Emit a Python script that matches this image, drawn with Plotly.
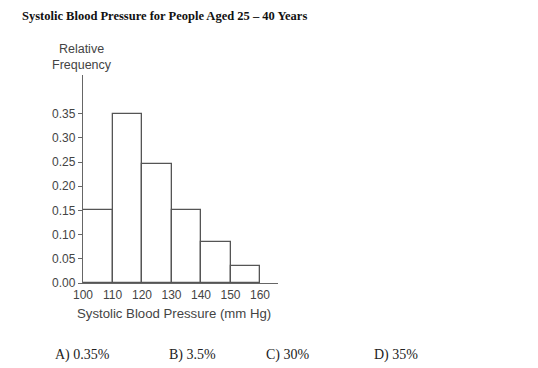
import plotly.graph_objects as go

# Data
bin_starts = [100, 110, 120, 130, 140, 150]
bin_width = 10
rel_freq = [0.15, 0.35, 0.245, 0.15, 0.085, 0.035]
y_ticks = [0.00, 0.05, 0.10, 0.15, 0.20, 0.25, 0.30, 0.35]
x_ticks = [100, 110, 120, 130, 140, 150, 160]
answers = ["A) 0.35%", "B) 3.5%", "C) 30%", "D) 35%"]

OFF = 8  # page body margin
W, H = 538 - OFF, 368 - OFF
L, T = 83 - OFF, 75 - OFF
R = W - (278 - OFF)
B = H - (283 - OFF)

def px(x):
    return (x - OFF - L) / (W - L - R)

def py(y):
    return 1 - (y - OFF - T) / (H - T - B)

centers = [s + bin_width / 2 for s in bin_starts]

fig = go.Figure()
fig.add_trace(go.Bar(
    x=centers, y=rel_freq, width=[bin_width] * len(centers),
    marker=dict(color="white", line=dict(color="#555555", width=1.3)),
    hoverinfo="skip",
))

sans = "Liberation Sans, Arial, sans-serif"
serif = "Liberation Serif, Times New Roman, serif"
gray = "#444444"

fig.update_layout(
    width=W, height=H,
    margin=dict(l=L, r=R, t=T, b=B),
    paper_bgcolor="white", plot_bgcolor="white",
    showlegend=False, bargap=0,
    xaxis=dict(range=[100, 166.1], tickvals=x_ticks, showline=True,
               linecolor="#666666", linewidth=1.3, ticks="", showgrid=False,
               zeroline=False, tickfont=dict(family=sans, size=12, color=gray)),
    yaxis=dict(range=[0, 0.43], tickvals=y_ticks,
               ticktext=[f"{v:.2f}" for v in y_ticks], showline=True,
               linecolor="#666666", linewidth=1.3, ticks="outside", ticklen=4,
               tickcolor="#666666", showgrid=False, zeroline=False,
               tickfont=dict(family=sans, size=12, color=gray)),
)

annotations = [
    dict(text="<b>Systolic Blood Pressure for People Aged 25 – 40 Years</b>",
         x=px(20), y=py(16), xanchor="left", yanchor="middle",
         font=dict(family=serif, size=12.5, color="#111111")),
    dict(text="Relative<br>Frequency", x=px(82), y=py(57), xanchor="center",
         yanchor="middle", font=dict(family=sans, size=12.5, color=gray)),
    dict(text="Systolic Blood Pressure (mm Hg)", x=px(174), y=py(313),
         xanchor="center", yanchor="middle",
         font=dict(family=sans, size=13.2, color=gray)),
]
for txt, xp in zip(answers, [53, 167, 264, 372]):
    annotations.append(dict(text=txt, x=px(xp), y=py(355), xanchor="left",
                            yanchor="middle",
                            font=dict(family=serif, size=14, color="#222222")))
for a in annotations:
    a.update(xref="paper", yref="paper", showarrow=False)
fig.update_layout(annotations=annotations)

fig.write_html("out.html")
